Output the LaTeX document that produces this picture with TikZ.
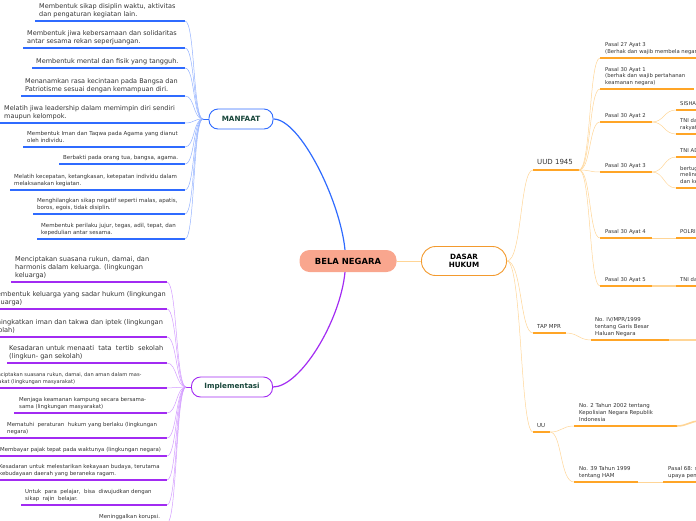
\documentclass[tikz,border=0pt]{standalone}
\usepackage{fontspec}
\setmainfont{DejaVu Sans}
\definecolor{mblue}{HTML}{2F6BFF}
\definecolor{mbluel}{HTML}{94B2FF}
\definecolor{mpurp}{HTML}{A22BF2}
\definecolor{mpurpl}{HTML}{D39CFF}
\definecolor{dorng}{HTML}{FFA526}
\definecolor{dorngl}{HTML}{FFD596}
\definecolor{dbord}{HTML}{F39A2E}
\definecolor{salmon}{HTML}{F9A68E}
\definecolor{ink}{HTML}{333333}
\definecolor{dgreen}{HTML}{17463A}
% leaf of MANFAAT: name, bar x, bar y, text x, font style, text
\newcommand{\mleaf}[6]{%
  \coordinate (#1) at (185,#3);
  \draw[bar, mblue] (#2,#3) -- (#1);
  \node[leaf, #5] (#1t) at (#4,#3-4.5) {#6};
  \draw[link, mbluel] (#1) .. controls (195,#3) and (193,119) .. (mhub);}
% leaf of Implementasi
\newcommand{\ileaf}[6]{%
  \coordinate (#1) at (167,#3);
  \draw[bar, mpurp] (#2,#3) -- (#1);
  \node[leaf, #5] (#1t) at (#4,#3-4.5) {#6};
  \draw[link, mpurpl] (#1) .. controls (177,#3) and (176,387) .. (ihub);}
% pasal of UUD 1945: name, bar y, bar end x, text
\newcommand{\pleaf}[4]{%
  \coordinate (#1) at (600,#2);
  \coordinate (#1e) at (#3,#2);
  \draw[bar, dorng] (#1) -- (#1e);
  \node[leaf, fp] (#1t) at (605,#2-4.5) {#4};
  \draw[link, dorngl] (uud1) .. controls (591,170) and (589,#2) .. (#1);}
% last level: name, parent, bar y, line width, text
\newcommand{\gleaf}[5]{%
  \coordinate (#1) at (676,#3);
  \draw[bar, dorng] (#1) -- (700,#3);
  \node[leaf, fp] (#1t) at (680,#3-4.5) {#5};
  \draw[dorngl, line width=#4] (#2) .. controls +(12,0) and (664,#3) .. (#1);}
\begin{document}
\begin{tikzpicture}[x=1pt,y=-1pt,
  topic/.style={rounded corners=9pt, minimum height=20pt, inner sep=0pt, fill=white,
    line width=0.9pt, font=\fontsize{7.2}{8.4}\selectfont\bfseries, align=center},
  leaf/.style={anchor=south west, inner sep=0pt, align=left, text=ink, text depth=0pt},
  fa/.style={font=\fontsize{6.5}{8}\selectfont},
  fb/.style={font=\fontsize{5.5}{6.5}\selectfont},
  fc/.style={font=\fontsize{6.6}{7.8}\selectfont},
  fd/.style={font=\fontsize{5.4}{6.8}\selectfont},
  fe/.style={font=\fontsize{5.1}{6.4}\selectfont},
  fp/.style={font=\fontsize{5.3}{6.6}\selectfont},
  bar/.style={line width=1.6pt},
  link/.style={line width=0.5pt}]
  \useasboundingbox (0,0) rectangle (696,520);
  \clip (0,0) rectangle (696,520);

  % main topics
  \node[rounded corners=10pt, fill=salmon, minimum width=97pt, minimum height=22pt,
    inner sep=0pt, font=\fontsize{8.4}{9}\selectfont\bfseries] (bela) at (348,261) {BELA NEGARA};
  \node[topic, draw=mblue, text=dgreen, minimum width=64pt] (manfaat) at (241,119) {MANFAAT};
  \node[topic, draw=mpurp, text=dgreen, minimum width=81pt] (impl) at (232,387) {Implementasi};
  \node[topic, draw=dbord, minimum width=85pt, minimum height=29pt, rounded corners=14pt] (dasar) at (464,261) {DASAR\\HUKUM};

  \draw[mblue, line width=1.2pt] (manfaat.east) .. controls (300,119) and (340,200) .. ([xshift=-3pt]bela.north);
  \draw[mpurp, line width=1.2pt] (impl.east) .. controls (300,387) and (340,322) .. ([xshift=-3pt]bela.south);
  \draw[dorngl, line width=1pt] (bela.east) -- (dasar.west);

  % MANFAAT
  \coordinate (mhub) at (203,119);
  \draw[mblue, line width=1pt] (mhub) -- (manfaat.west);
  \mleaf{m1}{35}{21}{39}{fa}{Membentuk sikap disiplin waktu, aktivitas\\dan pengaturan kegiatan lain.}
  \mleaf{m2}{23}{48}{27}{fa}{Membentuk jiwa kebersamaan dan solidaritas\\antar sesama rekan seperjuangan.}
  \mleaf{m3}{32}{68}{36}{fa}{Membentuk mental dan fisik yang tangguh.}
  \mleaf{m4}{21}{96}{25}{fa}{Menanamkan rasa kecintaan pada Bangsa dan\\Patriotisme sesuai dengan kemampuan diri.}
  \mleaf{m5}{0}{123}{4}{fa}{Melatih jiwa leadership dalam memimpin diri sendiri\\maupun kelompok.}
  \mleaf{m6}{23}{147}{27}{fb}{Membentuk Iman dan Taqwa pada Agama yang dianut\\oleh individu.}
  \mleaf{m7}{59}{164}{63}{fb}{Berbakti pada orang tua, bangsa, agama.}
  \mleaf{m8}{10}{190}{14}{fb}{Melatih kecepatan, ketangkasan, ketepatan individu dalam\\melaksanakan kegiatan.}
  \mleaf{m9}{33}{214}{37}{fb}{Menghilangkan sikap negatif seperti malas, apatis,\\boros, egois, tidak disiplin.}
  \mleaf{m10}{37}{239}{41}{fb}{Membentuk perilaku jujur, tegas, adil, tepat, dan\\kepedulian antar sesama.}

  % Implementasi
  \coordinate (ihub) at (186,387);
  \draw[mpurp, line width=1pt] (ihub) -- (impl.west);
  \ileaf{i1}{11}{282}{15}{fc}{Menciptakan suasana rukun, damai, dan\\harmonis dalam keluarga. (lingkungan\\keluarga)}
  \ileaf{i2}{-14}{309}{-9}{fc}{Membentuk keluarga yang sadar hukum (lingkungan\\keluarga)}
  \ileaf{i3}{-16}{337}{-13}{fc}{Meningkatkan iman dan takwa dan iptek (lingkungan\\sekolah)}
  \ileaf{i4}{7}{363}{9}{fc}{Kesadaran untuk menaati~ tata~ tertib~ sekolah\\(lingkun- gan sekolah)}
  \ileaf{i5}{-12}{388}{-10}{fe}{Menciptakan suasana rukun, damai, dan aman dalam mas-\\yarakat (lingkungan masyarakat)}
  \ileaf{i6}{14}{413}{19}{fd}{Menjaga keamanan kampung secara bersama-\\sama (lingkungan masyarakat)}
  \ileaf{i7}{0}{438}{7}{fd}{Mematuhi~ peraturan~ hukum yang berlaku (lingkungan\\negara)}
  \ileaf{i8}{-2}{456}{0}{fd}{Membayar pajak tepat pada waktunya (lingkungan negara)}
  \ileaf{i9}{-2}{480}{-1}{fd}{Kesadaran untuk melestarikan kekayaan budaya, terutama\\kebudayaan daerah yang beraneka ragam.}
  \ileaf{i10}{21}{505}{25}{fd}{Untuk~ para~ pelajar,~ bisa~ diwujudkan dengan\\sikap~ rajin~ belajar.}
  \ileaf{i11}{95}{523}{99}{fd}{Meninggalkan korupsi.}

  % DASAR HUKUM
  \coordinate (uud0) at (533,170); \coordinate (uud1) at (579,170);
  \coordinate (tap0) at (533,333); \coordinate (tap1) at (566,333);
  \coordinate (uu0) at (533,432);  \coordinate (uu1) at (550,432);
  \draw[bar, dorng] (uud0) -- (uud1);
  \draw[bar, dorng] (tap0) -- (tap1);
  \draw[bar, dorng] (uu0) -- (uu1);
  \node[leaf, font=\fontsize{7}{8}\selectfont] (uud) at (537,165) {UUD 1945};
  \node[leaf, font=\fontsize{5.5}{6.6}\selectfont] (tap) at (537,328.5) {TAP MPR};
  \node[leaf, font=\fontsize{5.5}{6.6}\selectfont] (uu) at (537,427.5) {UU};
  \draw[link, dorngl] (dasar.east) .. controls (522,261) and (520,170) .. (uud0);
  \draw[link, dorngl] (dasar.east) .. controls (522,261) and (520,333) .. (tap0);
  \draw[link, dorngl] (dasar.east) .. controls (522,261) and (520,432) .. (uu0);

  \pleaf{p1}{58}{700}{Pasal 27 Ayat 3\\(Berhak dan wajib membela negara)}
  \pleaf{p2}{89}{694}{Pasal 30 Ayat 1\\(berhak dan wajib pertahanan\\keamanan negara)}
  \pleaf{p3}{122}{652}{Pasal 30 Ayat 2}
  \pleaf{p4}{172}{652}{Pasal 30 Ayat 3}
  \pleaf{p5}{238}{652}{Pasal 30 Ayat 4}
  \pleaf{p6}{286}{652}{Pasal 30 Ayat 5}

  \gleaf{ga}{p3e}{110}{0.5pt}{SISHANKAMRATA}
  \gleaf{gb}{p3e}{134}{0.5pt}{TNI dan POLRI sebagai kekuatan utama,\\rakyat sebagai kekuatan pendukung}
  \gleaf{gc}{p4e}{157}{0.5pt}{TNI AD, AL, AU}
  \gleaf{gd}{p4e}{188}{0.5pt}{bertugas mempertahankan,\\melindungi, dan memelihara\\dan kedaulatan negara}
  \gleaf{ge}{p5e}{238}{0.5pt}{POLRI}
  \gleaf{gf}{p6e}{286}{1.6pt}{TNI dan POLRI}

  % TAP MPR and UU
  \coordinate (tc0) at (591,340); \coordinate (tc1) at (669,340);
  \draw[bar, dorng] (tc0) -- (tc1);
  \draw[bar, dorngl] (tc1) -- (700,340);
  \draw[link, dorngl] (tap1) .. controls (578,333) and (579,340) .. (tc0);
  \node[leaf, fd] (tapc) at (595,335.5) {No. IV/MPR/1999\\tentang Garis Besar\\Haluan Negara};

  \coordinate (ua0) at (574,426); \coordinate (ua1) at (677,426);
  \coordinate (ub0) at (574,482); \coordinate (ub1) at (638,482);
  \coordinate (uc0) at (663,482);
  \draw[bar, dorng] (ua0) -- (ua1);
  \draw[bar, dorngl] (ua1) .. controls (687,426) and (690,421) .. (700,421);
  \draw[bar, dorng] (ub0) -- (ub1);
  \draw[bar, dorng] (uc0) -- (700,482);
  \draw[link, dorngl] (ub1) -- (uc0);
  \draw[link, dorngl] (uu1) .. controls (562,432) and (562,426) .. (ua0);
  \draw[link, dorngl] (uu1) .. controls (562,432) and (560,482) .. (ub0);
  \node[leaf, fd] (uua) at (579,421.5) {No. 2 Tahun 2002 tentang\\Kepolisian Negara Republik\\Indonesia};
  \node[leaf, fd] (uub) at (579,477.5) {No. 39 Tahun 1999\\tentang HAM};
  \node[leaf, fd] (uuc) at (668,477.5) {Pasal 68: setiap warga negara\\upaya pembelaan negara};
\end{tikzpicture}
\end{document}
